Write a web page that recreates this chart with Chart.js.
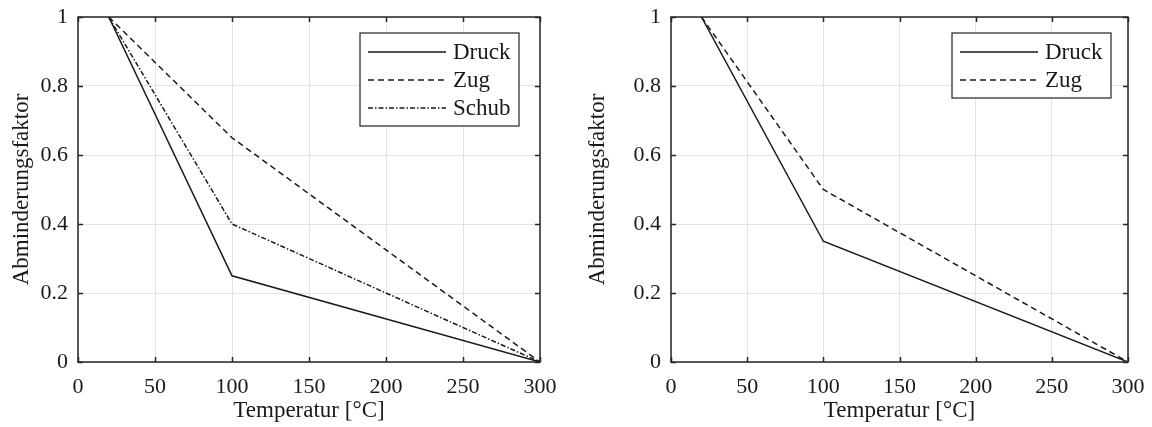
<!DOCTYPE html>
<html>
<head>
<meta charset="utf-8">
<script src="https://cdn.jsdelivr.net/npm/chart.js@4.4.0/dist/chart.umd.min.js"></script>
<style>
  body { margin: 0; background: #fff; }
  .feld { position: absolute; top: 0; width: 576px; height: 427px; }
</style>
</head>
<body>
<div class="feld" style="left:0"><canvas id="links" width="576" height="427"></canvas></div>
<div class="feld" style="left:576px"><canvas id="rechts" width="576" height="427"></canvas></div>
<script>
const temperatur = [20, 100, 300];
const druckLinks = [1, 0.25, 0];
const zugLinks = [1, 0.65, 0];
const schubLinks = [1, 0.4, 0];
const druckRechts = [1, 0.35, 0];
const zugRechts = [1, 0.5, 0];
const xTicks = [0, 50, 100, 150, 200, 250, 300];
const yTicks = [0, 0.2, 0.4, 0.6, 0.8, 1];

const schwarz = "#1a1a1a";
const schrift = "'Liberation Serif', 'DejaVu Serif', serif";
Chart.defaults.font.family = schrift;
Chart.defaults.color = schwarz;

function punkte(werte) {
  return temperatur.map((t, i) => ({ x: t, y: werte[i] }));
}

function linie(label, werte, dash) {
  return {
    label: label,
    data: punkte(werte),
    borderColor: schwarz,
    borderWidth: 1.5,
    borderDash: dash,
    pointRadius: 0,
    tension: 0,
    fill: false,
  };
}

// box around the plot, inward ticks on all sides, and the legend
const rahmen = {
  id: "rahmen",
  afterDraw: function (chart, args, opts) {
    const { ctx, chartArea: a, scales } = chart;
    ctx.save();
    ctx.strokeStyle = "#262626";
    ctx.lineWidth = 1.5;
    ctx.setLineDash([]);
    ctx.beginPath();
    scales.x.ticks.forEach((t) => {
      const px = Math.round(scales.x.getPixelForValue(t.value)) + 0.5;
      ctx.moveTo(px, a.top); ctx.lineTo(px, a.top + 5);
      ctx.moveTo(px, a.bottom); ctx.lineTo(px, a.bottom - 5);
    });
    scales.y.ticks.forEach((t) => {
      const py = Math.round(scales.y.getPixelForValue(t.value)) + 0.5;
      ctx.moveTo(a.left, py); ctx.lineTo(a.left + 5, py);
      ctx.moveTo(a.right, py); ctx.lineTo(a.right - 5, py);
    });
    ctx.stroke();
    ctx.strokeRect(a.left, a.top, a.width, a.height);

    // legend
    const sets = chart.data.datasets;
    const w = 159;
    const h = sets.length * 28 + 9;
    const bx = a.right - opts.rechts - w;
    const by = a.top + 16;
    ctx.fillStyle = "#fff";
    ctx.fillRect(bx, by, w, h);
    ctx.lineWidth = 1.3;
    ctx.strokeStyle = "#333";
    ctx.strokeRect(bx, by, w, h);
    ctx.font = "23px " + schrift;
    ctx.textBaseline = "middle";
    ctx.textAlign = "left";
    sets.forEach((ds, i) => {
      const y = by + 19 + i * 28;
      ctx.strokeStyle = ds.borderColor;
      ctx.lineWidth = ds.borderWidth;
      ctx.setLineDash(ds.borderDash || []);
      ctx.beginPath();
      ctx.moveTo(bx + 8, y);
      ctx.lineTo(bx + 86, y);
      ctx.stroke();
      ctx.fillStyle = schwarz;
      ctx.fillText(ds.label, bx + 93, y + 1);
    });
    ctx.restore();
  },
};

function optionen(yBreite, rechtsPad, legendeRechts) {
  return {
    responsive: false,
    animation: false,
    layout: { padding: { left: 0, right: rechtsPad, top: 17, bottom: 0 } },
    plugins: {
      legend: { display: false },
      tooltip: { enabled: false },
      rahmen: { rechts: legendeRechts },
    },
    scales: {
      x: {
        type: "linear",
        min: 0,
        max: 300,
        afterBuildTicks: (s) => { s.ticks = xTicks.map((v) => ({ value: v })); },
        afterFit: (s) => { s.height = 65; s.paddingLeft = 0; s.paddingRight = 0; },
        grid: { color: "#e3e3e3", lineWidth: 1, drawTicks: false },
        border: { display: false },
        ticks: { padding: 12, font: { size: 22 }, maxRotation: 0, callback: (v) => String(v) },
        title: { display: true, text: "Temperatur [°C]", font: { size: 23 }, padding: { bottom: 2, top: 0 } },
      },
      y: {
        type: "linear",
        min: 0,
        max: 1,
        afterBuildTicks: (s) => { s.ticks = yTicks.map((v) => ({ value: v })); },
        afterFit: (s) => { s.width = yBreite; s.paddingTop = 0; s.paddingBottom = 0; },
        grid: { color: "#e3e3e3", lineWidth: 1, drawTicks: false },
        border: { display: false },
        ticks: { padding: 10, font: { size: 22 }, callback: (v) => String(v) },
        title: { display: true, text: "Abminderungsfaktor", font: { size: 23 }, padding: { top: 8, bottom: 0 } },
      },
    },
  };
}

document.addEventListener("DOMContentLoaded", function () {
  new Chart(document.getElementById("links"), {
    type: "line",
    data: {
      datasets: [
        linie("Druck", druckLinks, []),
        linie("Zug", zugLinks, [6, 4]),
        linie("Schub", schubLinks, [5, 2, 1.5, 2]),
      ],
    },
    options: optionen(78, 36, 21),
    plugins: [rahmen],
  });

  new Chart(document.getElementById("rechts"), {
    type: "line",
    data: {
      datasets: [
        linie("Druck", druckRechts, []),
        linie("Zug", zugRechts, [6, 4]),
      ],
    },
    options: optionen(95, 24, 17),
    plugins: [rahmen],
  });
});
</script>
</body>
</html>
